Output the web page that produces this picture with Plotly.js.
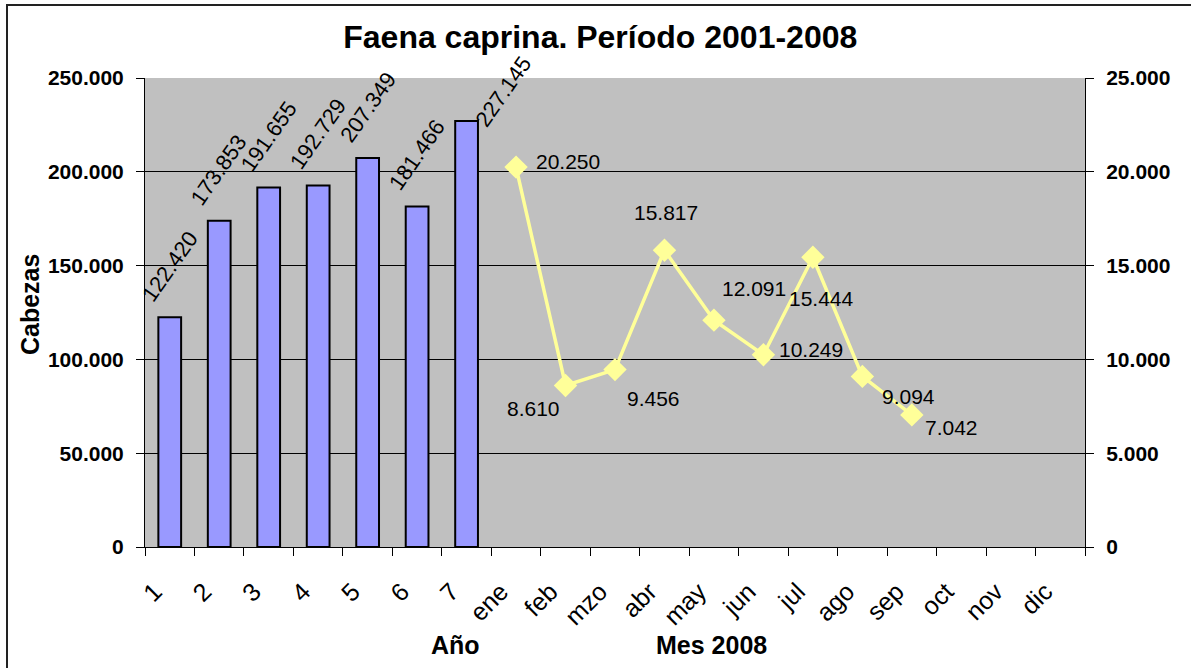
<!DOCTYPE html>
<html>
<head>
<meta charset="utf-8">
<script src="https://cdn.plot.ly/plotly-3.0.1.min.js"></script>
<style>
  html, body { margin: 0; padding: 0; background: #fff; overflow: hidden; }
  #frame { position: absolute; left: 6px; top: 4px; width: 1400px; height: 800px; border: 2px solid #222; box-sizing: border-box; pointer-events: none; z-index: 5; }
  #chart { position: absolute; left: 0; top: 0; width: 1191px; height: 668px; }
</style>
</head>
<body>
<div id="chart"></div>
<div id="frame"></div>
<script>
// ---- data ----
const categories = ["1","2","3","4","5","6","7","ene","feb","mzo","abr","may","jun","jul","ago","sep","oct","nov","dic"];
const yearCats = ["1","2","3","4","5","6","7"];
const yearValues = [122420, 173853, 191655, 192729, 207349, 181466, 227145];
const monthCats = ["ene","feb","mzo","abr","may","jun","jul","ago","sep"];
const monthValues = [20250, 8610, 9456, 15817, 12091, 10249, 15444, 9094, 7042];

// label offsets (style only, px)
const barLabelShift = [[0,51],[0,51],[0,51],[0,52],[0,51],[0,52],[37,29]];
const lineLabelShift = [[52,6],[-32,-23],[38,-29],[2,38],[40,32],[48,5],[9,-41],[46,-20],[40,-13]];

const fmt = v => v.toLocaleString('de-DE');
const FONT = 'Liberation Sans, Arial, sans-serif';
const catIndex = c => categories.indexOf(c);

const bars = {
  type: 'bar', x: yearCats, y: yearValues, width: 0.46,
  marker: { color: '#9999FF', line: { color: '#000', width: 2 } },
  yaxis: 'y'
};
const line = {
  type: 'scatter', mode: 'lines+markers', x: monthCats, y: monthValues, yaxis: 'y2',
  line: { color: '#FFFF99', width: 3.5 },
  marker: { symbol: 'diamond', size: 18, color: '#FFFF99' }
};

const annotations = [];
yearCats.forEach((c, i) => annotations.push({
  x: catIndex(c), y: yearValues[i], xref: 'x', yref: 'y', text: fmt(yearValues[i]),
  showarrow: false, textangle: -55, xanchor: 'center', yanchor: 'middle',
  xshift: barLabelShift[i][0], yshift: barLabelShift[i][1],
  font: { family: FONT, size: 22, color: '#000' }
}));
monthCats.forEach((c, i) => annotations.push({
  x: catIndex(c), y: monthValues[i], xref: 'x', yref: 'y2', text: fmt(monthValues[i]),
  showarrow: false, xanchor: 'center', yanchor: 'middle',
  xshift: lineLabelShift[i][0], yshift: lineLabelShift[i][1],
  font: { family: FONT, size: 21, color: '#000' }
}));
annotations.push(
  { xref: 'paper', yref: 'paper', x: -0.1223, y: 0.516, xanchor: 'center', yanchor: 'middle',
    text: '<b>Cabezas</b>', textangle: -90, showarrow: false,
    font: { family: FONT, size: 25, color: '#000' } },
  { xref: 'paper', yref: 'paper', x: 0.3298, y: -0.209, xanchor: 'center', yanchor: 'middle',
    text: '<b>Año</b>', showarrow: false,
    font: { family: FONT, size: 25, color: '#000' } },
  { xref: 'paper', yref: 'paper', x: 0.603, y: -0.209, xanchor: 'center', yanchor: 'middle',
    text: '<b>Mes 2008</b>', showarrow: false,
    font: { family: FONT, size: 25, color: '#000' } }
);

const layout = {
  width: 1191, height: 668,
  margin: { l: 145, r: 106, t: 78, b: 121 },
  paper_bgcolor: '#fff', plot_bgcolor: '#C0C0C0',
  separators: ',.',
  showlegend: false,
  title: { text: '<b>Faena caprina. Período 2001-2008</b>', xref: 'container', x: 0.504, y: 0.945, yanchor: 'middle',
           font: { family: FONT, size: 32, color: '#000' } },
  xaxis: {
    type: 'category', categoryorder: 'array', categoryarray: categories, range: [-0.5, 18.5],
    tickmode: 'array', tickvals: categories, ticktext: categories,
    tickangle: -45, tickson: 'boundaries', ticks: 'outside', ticklen: 8, tickcolor: '#000', tickwidth: 1,
    showline: true, linecolor: '#000', linewidth: 1, showgrid: false, zeroline: false,
    ticklabelstandoff: 19, ticklabelshift: -15,
    tickfont: { family: FONT, size: 25, color: '#000' }
  },
  yaxis: {
    range: [0, 250000], dtick: 50000, tickformat: ',d',
    ticks: 'outside', ticklen: 8, tickcolor: '#000', showline: true, linecolor: '#000', linewidth: 1,
    showgrid: true, gridcolor: '#000', gridwidth: 1, zeroline: false,
    ticklabelstandoff: 8,
    tickfont: { family: FONT, size: 21, color: '#000', weight: 'bold' }
  },
  yaxis2: {
    overlaying: 'y', side: 'right', range: [0, 25000], dtick: 5000, tickformat: ',d',
    ticks: 'outside', ticklen: 8, tickcolor: '#000', showline: true, linecolor: '#000', linewidth: 1,
    showgrid: false, zeroline: false,
    ticklabelstandoff: 8,
    tickfont: { family: FONT, size: 21, color: '#000', weight: 'bold' }
  },
  annotations: annotations
};

Plotly.newPlot('chart', [bars, line], layout, { displayModeBar: false, staticPlot: true });
</script>
</body>
</html>
